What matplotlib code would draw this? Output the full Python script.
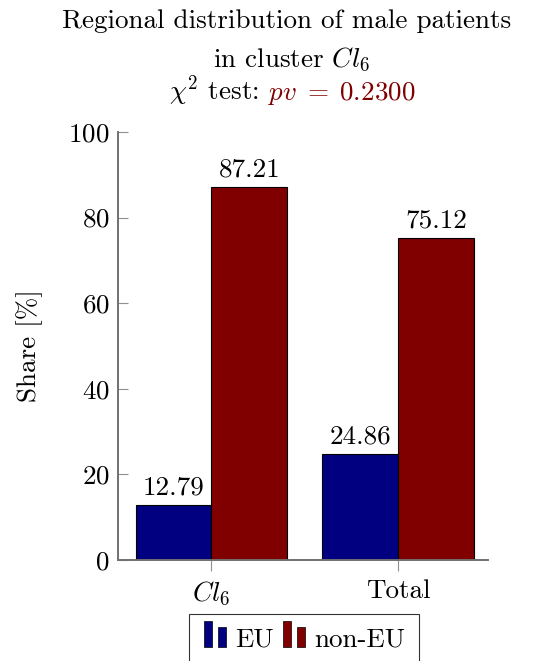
import matplotlib
matplotlib.use("Agg")
import matplotlib.pyplot as plt
from matplotlib.legend_handler import HandlerBase
from matplotlib.patches import Rectangle
import numpy as np

categories = [r"$Cl_6$", "Total"]
series_names = ["EU", "non-EU"]
eu_values = [12.79, 24.86]
noneu_values = [87.21, 75.12]
yticks = [0, 20, 40, 60, 80, 100]
colors = ["#000080", "#800000"]

plt.rcParams["font.family"] = "cmr10"
plt.rcParams["mathtext.fontset"] = "cm"
plt.rcParams["axes.formatter.use_mathtext"] = True

FS = 19.5
W, H = 546, 661
fig = plt.figure(figsize=(W / 100, H / 100), dpi=100)
ax = fig.add_axes([118 / W, 1 - 560 / H, (488 - 118) / W, (560 - 132) / H])

x = np.arange(len(categories))
bw = 0.406
b1 = ax.bar(x - bw / 2, eu_values, bw, color=colors[0], edgecolor="black", linewidth=0.8, label=series_names[0])
b2 = ax.bar(x + bw / 2, noneu_values, bw, color=colors[1], edgecolor="black", linewidth=0.8, label=series_names[1])

for bars, vals in ((b1, eu_values), (b2, noneu_values)):
    for r, v in zip(bars, vals):
        ax.annotate(f"{v:.2f}", (r.get_x() + r.get_width() / 2, v), xytext=(0, 4),
                    textcoords="offset points", ha="center", va="bottom", fontsize=FS)

ax.set_xlim(-0.5, 1.48)
ax.set_ylim(0, 100)
ax.set_yticks(yticks)
ax.set_xticks(x)
ax.set_xticklabels(categories)
for s in ("top", "right"):
    ax.spines[s].set_visible(False)
for s in ("left", "bottom"):
    ax.spines[s].set_color("#707070")
    ax.spines[s].set_linewidth(1.4)
ax.tick_params(axis="y", direction="in", length=7, width=0.8, color="#909090", labelsize=FS, pad=6)
ax.tick_params(axis="x", direction="out", length=8, width=0.8, color="#909090", labelsize=FS, pad=6)
ax.set_ylabel("Share [%]", fontsize=FS, labelpad=18.5)

# title
fig.text(287 / W, 1 - 28 / H, "Regional distribution of male patients", ha="center", va="baseline", fontsize=FS)
fig.text(291 / W, 1 - 66 / H, r"in cluster $Cl_6$", ha="center", va="baseline", fontsize=FS)
fig.text(259 / W, 1 - 100 / H, r"$\chi^2$ test:", ha="right", va="baseline", fontsize=FS)
fig.text(268 / W, 1 - 100 / H, r"$pv\;=\;0.2300$", ha="left", va="baseline", fontsize=FS, color=colors[1])


class TwoBarHandler(HandlerBase):
    def create_artists(self, legend, orig_handle, xdescent, ydescent, width, height, fontsize, trans):
        c = orig_handle.get_facecolor()
        bw_ = width * 0.3
        r1 = Rectangle((-xdescent + width * 0.05, -ydescent), bw_, height * 1.35, facecolor=c,
                       edgecolor="black", linewidth=0.5, transform=trans)
        r2 = Rectangle((-xdescent + width * 0.55, -ydescent), bw_, height * 1.05, facecolor=c,
                       edgecolor="black", linewidth=0.5, transform=trans)
        return [r1, r2]


leg = fig.legend([b1.patches[0], b2.patches[0]], series_names, loc="upper center",
                 bbox_to_anchor=(304 / W, 1 - 614 / H), ncol=2, fontsize=FS,
                 handler_map={Rectangle: TwoBarHandler()}, frameon=True, fancybox=False,
                 edgecolor="black", handlelength=1.0, handletextpad=0.2, columnspacing=0.3,
                 borderpad=0.5, borderaxespad=0)
leg.get_frame().set_linewidth(0.8)

fig.savefig("out.png", dpi=100)
